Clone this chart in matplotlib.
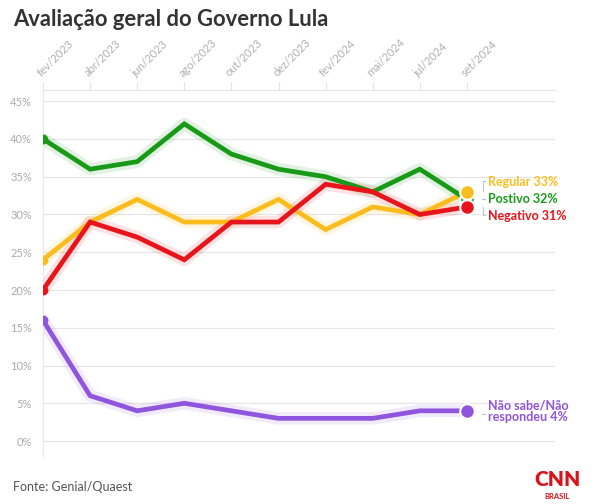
import numpy as np
import matplotlib.pyplot as plt

plt.rcParams['font.family'] = ['Lato', 'DejaVu Sans']

meses = ['fev/2023', 'abr/2023', 'jun/2023', 'ago/2023', 'out/2023', 'dez/2023',
         'fev/2024', 'mai/2024', 'jul/2024', 'set/2024']
regular = [24, 29, 32, 29, 29, 32, 28, 31, 30, 33]
positivo = [40, 36, 37, 42, 38, 36, 35, 33, 36, 32]
negativo = [20, 29, 27, 24, 29, 29, 34, 33, 30, 31]
nao_sabe = [16, 6, 4, 5, 4, 3, 3, 3, 4, 4]

series = [
    ('Não sabe/Não\nrespondeu', nao_sabe, '#9055dd'),
    ('Regular', regular, '#fbbd1e'),
    ('Postivo', positivo, '#189a18'),
    ('Negativo', negativo, '#e8141b'),
]

x = np.arange(len(meses))

fig = plt.figure(figsize=(5.99, 5.04), dpi=100)
ax = fig.add_axes([0.0718, 0.095, 0.8547, 0.7266])

for nome, vals, cor in series:
    ax.plot(x, vals, color=cor, lw=9, alpha=0.12, solid_capstyle='round', zorder=2)
    ax.plot(x, vals, color=cor, lw=3.4, solid_joinstyle='miter', zorder=3)
    ax.plot(x[0], vals[0], 'o', color=cor, ms=6, zorder=4)

# pontos finais maiores (verde primeiro, fica por tras)
for nome, vals, cor in [series[2], series[0], series[1], series[3]]:
    ax.plot(x[-1], vals[-1], 'o', color=cor, ms=10.5, mec='white', mew=1.5, zorder=5)

ax.set_xlim(0, 10.87)
ax.set_ylim(-2, 46.5)
ax.set_yticks(range(0, 46, 5))
ax.set_yticklabels([f'{v}%' for v in range(0, 46, 5)], color='#aaaaaa', fontsize=8)
ax.tick_params(axis='y', length=0, pad=8)
ax.grid(axis='y', color='#e6e6e6', lw=0.8)

ax.xaxis.tick_top()
ax.set_xticks(x)
ax.set_xticklabels(meses, rotation=45, ha='left', va='bottom', rotation_mode='anchor',
                   color='#b0b0b0', fontsize=8)
ax.tick_params(axis='x', length=6, color='#e3e3e3', pad=2)

for s in ['right', 'bottom']:
    ax.spines[s].set_visible(False)
ax.spines['top'].set_color('#e6e6e6')
ax.spines['left'].set_color('#e6e6e6')

# rotulos a direita
lx = 9.45
ax.text(lx, 34.3, f'Regular {regular[-1]}%', color='#fbbd1e', fontsize=9, fontweight='bold', va='center')
ax.text(lx, 32.0, f'Postivo {positivo[-1]}%', color='#189a18', fontsize=9, fontweight='bold', va='center')
ax.text(lx, 29.8, f'Negativo {negativo[-1]}%', color='#e8141b', fontsize=9, fontweight='bold', va='center')
ax.text(lx, 4.0, f'Não sabe/Não\nrespondeu {nao_sabe[-1]}%', color='#9055dd', fontsize=9,
        fontweight='bold', va='center', linespacing=0.95)
lc = '#b8c4d8'
ax.plot([9.38, 9.34, 9.34], [34.4, 34.4, 33.1], color=lc, lw=0.8, clip_on=False)
ax.plot([9.32, 9.38], [32.0, 32.0], color=lc, lw=0.8, clip_on=False)
ax.plot([9.34, 9.34, 9.38], [31.0, 29.9, 29.9], color=lc, lw=0.8, clip_on=False)
ax.plot([9.33, 9.38], [3.6, 3.6], color=lc, lw=0.8, clip_on=False)

fig.text(0.022, 0.962, 'Avaliação geral do Governo Lula', fontsize=15.8, fontweight='bold',
         color='#333333', va='center')
fig.text(0.022, 0.034, 'Fonte: Genial/Quaest', fontsize=9, color='#555555', va='center')
fig.text(0.93, 0.048, 'CNN', fontsize=15, fontweight='heavy', color='#d8141b', ha='center',
         va='center')
fig.text(0.93, 0.015, 'BRASIL', fontsize=5.5, fontweight='bold', color='#d8141b', ha='center', va='center')

fig.savefig('out.png', dpi=100, facecolor='white')
